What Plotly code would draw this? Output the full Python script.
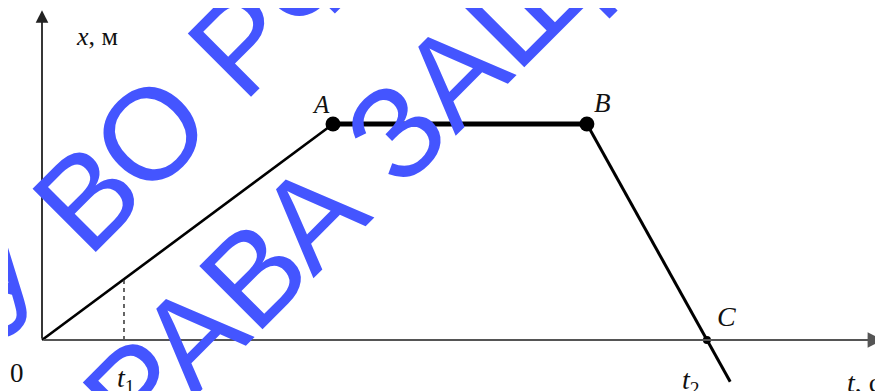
import plotly.graph_objects as go

# key points of the motion graph x(t)
point_names = ["0", "A", "B", "C"]
t_points = [0.0, 4.0, 7.49, 9.14]
x_points = [0.0, 3.0, 3.0, 0.0]
t_tail = 9.46          # line continues past C
x_tail = -0.58
t1_value = 1.127       # moment t1 (dashed line)
t_axis_max = 11.56
x_axis_max = 4.58

# page offset (browser body margin) and figure size
OFF = 8
W, H = 883 - OFF, 391 - OFF

def px(Px, Py):
    """page pixel -> paper fraction"""
    return (Px - OFF) / W, (391 - Py) / H

fig = go.Figure()

# O -> A
fig.add_trace(go.Scatter(x=t_points[0:2], y=x_points[0:2], mode="lines",
                         line=dict(color="black", width=2.6), hoverinfo="skip"))
# A -> B
fig.add_trace(go.Scatter(x=t_points[1:3], y=x_points[1:3], mode="lines",
                         line=dict(color="black", width=5), hoverinfo="skip"))
# B -> C -> tail
fig.add_trace(go.Scatter(x=[t_points[2], t_points[3], t_tail], y=[x_points[2], x_points[3], x_tail],
                         mode="lines", line=dict(color="black", width=3), hoverinfo="skip"))
# dashed t1
x_at_t1 = x_points[1] / t_points[1] * t1_value
fig.add_trace(go.Scatter(x=[t1_value, t1_value], y=[0, x_at_t1], mode="lines",
                         line=dict(color="#333333", width=1.5, dash="4px,4px"), hoverinfo="skip"))
# markers
fig.add_trace(go.Scatter(x=t_points[1:3], y=x_points[1:3], mode="markers",
                         marker=dict(color="black", size=15), hoverinfo="skip"))
fig.add_trace(go.Scatter(x=[t_points[3]], y=[x_points[3]], mode="markers",
                         marker=dict(color="black", size=8), hoverinfo="skip"))

ann = []
# axes with arrows
ann.append(dict(x=0, y=x_axis_max, ax=0, ay=0, xref="x", yref="y", axref="x", ayref="y",
                showarrow=True, arrowhead=2, arrowsize=1.4, arrowwidth=1.8, arrowcolor="#222222", text=""))
ann.append(dict(x=t_axis_max, y=0, ax=0, ay=0, xref="x", yref="y", axref="x", ayref="y",
                showarrow=True, arrowhead=2, arrowsize=1.4, arrowwidth=2.2, arrowcolor="#555555", text=""))

serif = "Liberation Serif"
def lab(text, Px, Py, size=26):
    x, y = px(Px, Py)
    ann.append(dict(x=x, y=y, xref="paper", yref="paper", xanchor="center", yanchor="middle",
                    text=text, showarrow=False,
                    font=dict(family=serif, size=size, color="#111111")))

lab("<i>x</i>, м", 97, 36, 26)
lab("<i>A</i>", 321, 104, 25)
lab("<i>B</i>", 602, 103, 27)
lab("<i>C</i>", 726, 316, 28)
lab("0", 17, 373, 27)
lab("<i>t</i><sub>1</sub>", 126, 379, 28)
lab("<i>t</i><sub>2</sub>", 691, 381, 28)
lab("<i>t</i>, с", 864, 382, 28)

# watermark
wm = dict(family="Liberation Sans", size=130, color="#4455ff")
def wmark(text, Px, Py):
    x, y = px(Px, Py)
    ann.append(dict(x=x, y=y, xref="paper", yref="paper", xanchor="center", yanchor="middle",
                    text=text, showarrow=False, textangle=-45, font=wm))

wmark("У ВО РФ", 157, 127)
wmark("ПРАВА ЗАЩИЩЕНЫ", 486, 42)

fig.update_layout(
    width=W, height=H, margin=dict(l=0, r=0, t=0, b=0),
    plot_bgcolor="white", paper_bgcolor="white", showlegend=False,
    xaxis=dict(range=[-34 / 72.75, t_axis_max], visible=False, fixedrange=True),
    yaxis=dict(range=[-51 / 72, 332 / 72], visible=False, fixedrange=True),
    annotations=ann,
)
fig.write_html("out.html")
